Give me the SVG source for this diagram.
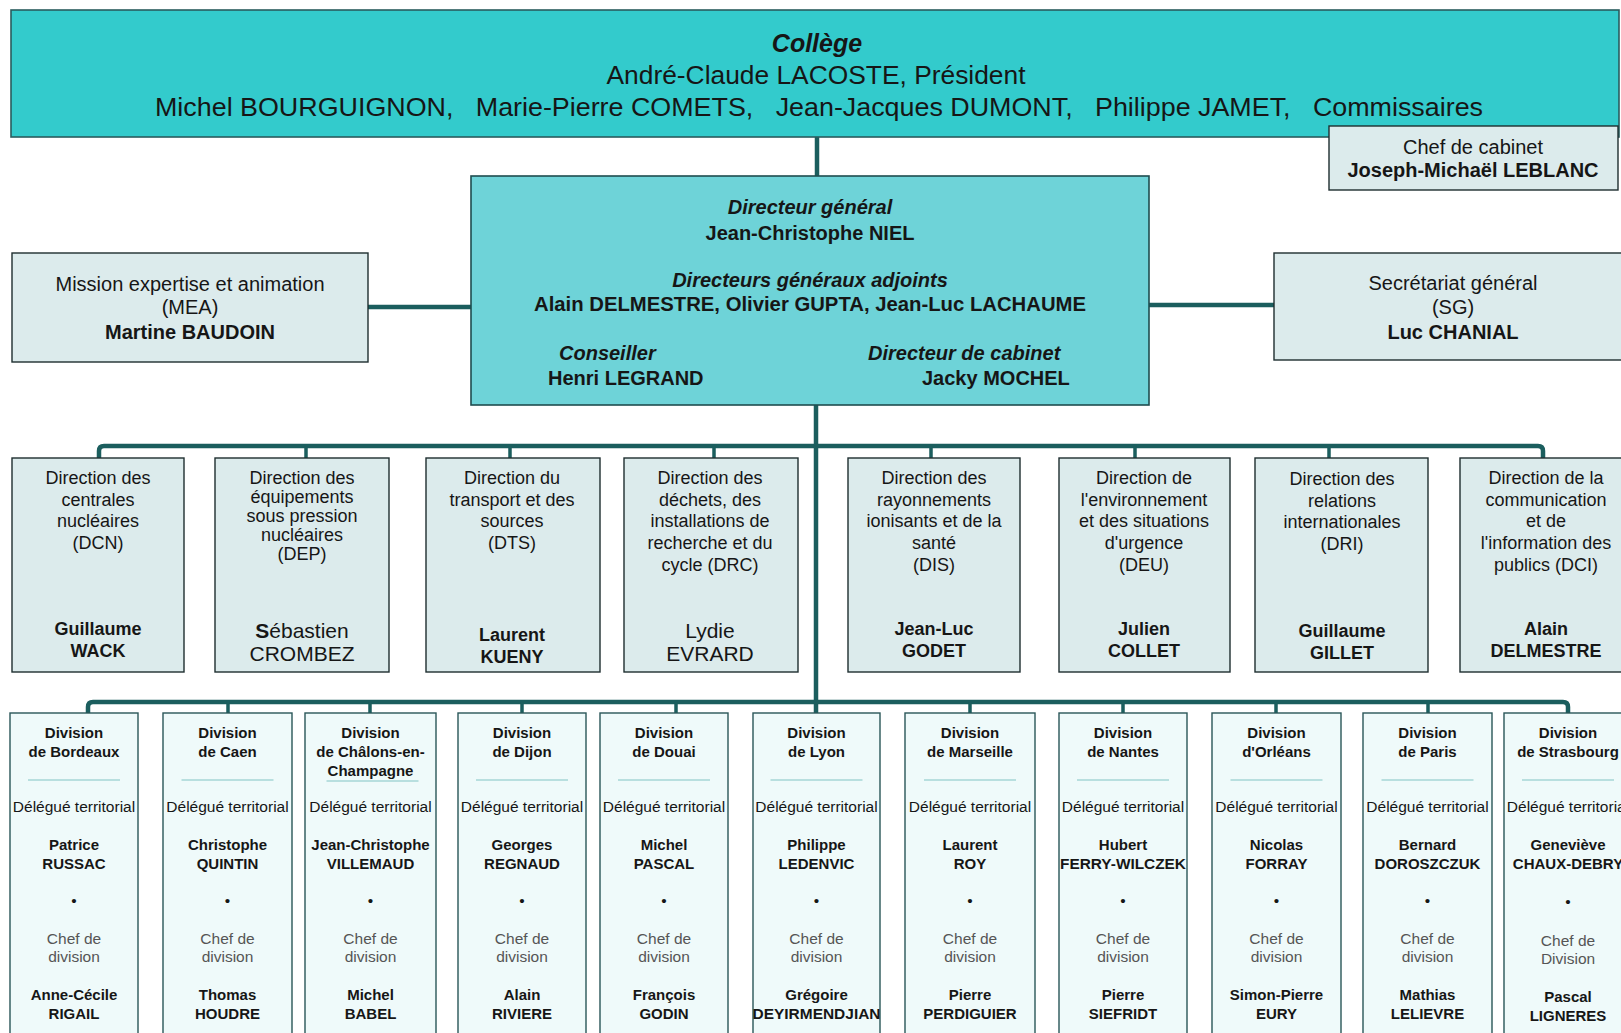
<svg xmlns="http://www.w3.org/2000/svg" width="1621" height="1033" viewBox="0 0 1621 1033">
<style>
text{font-family:"Liberation Sans",Arial,sans-serif;text-anchor:middle;fill:#161616}
.col{fill:#33CBCC;stroke:#2A5C5E;stroke-width:1.6}
.dg{fill:#6ED3D8;stroke:#1F4D4F;stroke-width:1.6}
.lt{fill:#DCEBEC;stroke:#1E2E30;stroke-width:1.4}
.dv{fill:#EFFAFA;stroke:#2A5658;stroke-width:1.4}
.sep{stroke:#A6D6D6;stroke-width:1.6}
.cn{stroke:#1B5E5E;stroke-width:4.5;fill:none}
.st{stroke:#1B5E5E;stroke-width:3.5;fill:none}
.t25{font-size:25px}
.t20{font-size:20px}
.t18{font-size:18px}
.t21{font-size:21px}
.d{font-size:15.5px}
.dn{font-size:15px;font-weight:bold}
.g{fill:#555}
.b{font-weight:bold}
.bi{font-weight:bold;font-style:italic}
</style>

<g id="connectors">
<path class="cn" d="M817,137 V176"/>
<path class="cn" d="M368,307 H471"/>
<path class="cn" d="M1149,305 H1274"/>
<path class="cn" d="M816,405 V713"/>
<path class="cn" d="M99,458 V451 Q99,446 104,446 H1538 Q1543,446 1543,451 V458"/>
<path class="st" d="M306,446 V458 M510,446 V458 M714,446 V458 M931,446 V458 M1135,446 V458 M1329,446 V458"/>
<path class="cn" d="M88,713 V707 Q88,702 93,702 H1563 Q1568,702 1568,707 V713"/>
<path class="st" d="M228,702 V713 M370,702 V713 M522,702 V713 M676,702 V713 M970,702 V713 M1123,702 V713 M1276,702 V713 M1428,702 V713"/>
</g>

<g id="college">
<rect class="col" x="11" y="10" width="1608" height="127"/>
<text class="t25 bi" x="817" y="52">Collège</text>
<text class="t25" x="816" y="84" textLength="419" lengthAdjust="spacingAndGlyphs">André-Claude LACOSTE, Président</text>
<text class="t25" x="819" y="116" textLength="1328" lengthAdjust="spacingAndGlyphs" xml:space="preserve">Michel BOURGUIGNON,   Marie-Pierre COMETS,   Jean-Jacques DUMONT,   Philippe JAMET,   Commissaires</text>
</g>

<g id="chef-cabinet">
<rect class="lt" x="1329" y="126" width="289" height="64"/>
<text class="t20" x="1473" y="154">Chef de cabinet</text>
<text class="t20 b" x="1473" y="177">Joseph-Michaël LEBLANC</text>
</g>

<g id="directeur-general">
<rect class="dg" x="471" y="176" width="678" height="229"/>
<text class="t20 bi" x="810" y="214">Directeur général</text>
<text class="t20 b" x="810" y="240">Jean-Christophe NIEL</text>
<text class="t20 bi" x="810" y="287">Directeurs généraux adjoints</text>
<text class="t20 b" x="810" y="311" textLength="552" lengthAdjust="spacingAndGlyphs">Alain DELMESTRE, Olivier GUPTA, Jean-Luc LACHAUME</text>
<text class="t20 bi" x="559" y="360" style="text-anchor:start">Conseiller</text>
<text class="t20 b" x="548" y="384.5" style="text-anchor:start">Henri LEGRAND</text>
<text class="t20 bi" x="868" y="360" style="text-anchor:start">Directeur de cabinet</text>
<text class="t20 b" x="922" y="384.5" style="text-anchor:start">Jacky MOCHEL</text>
</g>

<g id="mea">
<rect class="lt" x="12" y="253" width="356" height="109"/>
<text class="t20" x="190" y="290.5">Mission expertise et animation</text>
<text class="t20" x="190" y="314">(MEA)</text>
<text class="t20 b" x="190" y="339">Martine BAUDOIN</text>
</g>

<g id="sg">
<rect class="lt" x="1274" y="253" width="350" height="107"/>
<text class="t20" x="1453" y="289.5">Secrétariat général</text>
<text class="t20" x="1453" y="314">(SG)</text>
<text class="t20 b" x="1453" y="338.5">Luc CHANIAL</text>
</g>

<g id="dcn">
<rect class="lt" x="12" y="458" width="172" height="214"/>
<text class="t18" x="98" y="484">Direction des</text>
<text class="t18" x="98" y="505.5">centrales</text>
<text class="t18" x="98" y="527">nucléaires</text>
<text class="t18" x="98" y="549">(DCN)</text>
<text class="t18 b" x="98" y="635">Guillaume</text>
<text class="t18 b" x="98" y="656.5">WACK</text>
</g>

<g id="dep">
<rect class="lt" x="215" y="458" width="174" height="214"/>
<text class="t18" x="302" y="484">Direction des</text>
<text class="t18" x="302" y="502.5">équipements</text>
<text class="t18" x="302" y="522">sous pression</text>
<text class="t18" x="302" y="541">nucléaires</text>
<text class="t18" x="302" y="560">(DEP)</text>
<text class="t21" x="302" y="638"><tspan class="b">S</tspan>ébastien</text>
<text class="t21" x="302" y="660.5">CROMBEZ</text>
</g>

<g id="dts">
<rect class="lt" x="426" y="458" width="174" height="214"/>
<text class="t18" x="512" y="484">Direction du</text>
<text class="t18" x="512" y="505.5">transport et des</text>
<text class="t18" x="512" y="527">sources</text>
<text class="t18" x="512" y="549">(DTS)</text>
<text class="t18 b" x="512" y="641">Laurent</text>
<text class="t18 b" x="512" y="663">KUENY</text>
</g>

<g id="drc">
<rect class="lt" x="624" y="458" width="174" height="214"/>
<text class="t18" x="710" y="484">Direction des</text>
<text class="t18" x="710" y="505.5">déchets, des</text>
<text class="t18" x="710" y="527">installations de</text>
<text class="t18" x="710" y="549">recherche et du</text>
<text class="t18" x="710" y="570.5">cycle (DRC)</text>
<text class="t21" x="710" y="638">Lydie</text>
<text class="t21" x="710" y="660.5">EVRARD</text>
</g>

<g id="dis">
<rect class="lt" x="848" y="458" width="172" height="214"/>
<text class="t18" x="934" y="484">Direction des</text>
<text class="t18" x="934" y="505.5">rayonnements</text>
<text class="t18" x="934" y="527">ionisants et de la</text>
<text class="t18" x="934" y="549">santé</text>
<text class="t18" x="934" y="570.5">(DIS)</text>
<text class="t18 b" x="934" y="635">Jean-Luc</text>
<text class="t18 b" x="934" y="656.5">GODET</text>
</g>

<g id="deu">
<rect class="lt" x="1059" y="458" width="171" height="214"/>
<text class="t18" x="1144" y="484">Direction de</text>
<text class="t18" x="1144" y="505.5">l'environnement</text>
<text class="t18" x="1144" y="527">et des situations</text>
<text class="t18" x="1144" y="549">d'urgence</text>
<text class="t18" x="1144" y="570.5">(DEU)</text>
<text class="t18 b" x="1144" y="635">Julien</text>
<text class="t18 b" x="1144" y="656.5">COLLET</text>
</g>

<g id="dri">
<rect class="lt" x="1255" y="458" width="173" height="214"/>
<text class="t18" x="1342" y="485">Direction des</text>
<text class="t18" x="1342" y="506.5">relations</text>
<text class="t18" x="1342" y="528">internationales</text>
<text class="t18" x="1342" y="550">(DRI)</text>
<text class="t18 b" x="1342" y="637">Guillaume</text>
<text class="t18 b" x="1342" y="658.5">GILLET</text>
</g>

<g id="dci">
<rect class="lt" x="1460" y="458" width="170" height="214"/>
<text class="t18" x="1546" y="484">Direction de la</text>
<text class="t18" x="1546" y="505.5">communication</text>
<text class="t18" x="1546" y="527">et de</text>
<text class="t18" x="1546" y="549">l'information des</text>
<text class="t18" x="1546" y="570.5">publics (DCI)</text>
<text class="t18 b" x="1546" y="635">Alain</text>
<text class="t18 b" x="1546" y="656.5">DELMESTRE</text>
</g>

<g id="div-bordeaux" transform="translate(74,0)">
<rect class="dv" x="-64" y="713" width="128" height="330"/>
<text class="dn" x="0" y="738">Division</text>
<text class="dn" x="0" y="757">de Bordeaux</text>
<line class="sep" x1="-46" y1="780" x2="46" y2="780"/>
<text class="d" x="0" y="812">Délégué territorial</text>
<text class="dn" x="0" y="850">Patrice</text>
<text class="dn" x="0" y="868.5">RUSSAC</text>
<text class="d" x="0" y="906">•</text>
<text class="d g" x="0" y="944">Chef de</text>
<text class="d g" x="0" y="962">division</text>
<text class="dn" x="0" y="1000">Anne-Cécile</text>
<text class="dn" x="0" y="1018.5">RIGAIL</text>
</g>

<g id="div-caen" transform="translate(227.5,0)">
<rect class="dv" x="-64.5" y="713" width="129" height="330"/>
<text class="dn" x="0" y="738">Division</text>
<text class="dn" x="0" y="757">de Caen</text>
<line class="sep" x1="-46" y1="780" x2="46" y2="780"/>
<text class="d" x="0" y="812">Délégué territorial</text>
<text class="dn" x="0" y="850">Christophe</text>
<text class="dn" x="0" y="868.5">QUINTIN</text>
<text class="d" x="0" y="906">•</text>
<text class="d g" x="0" y="944">Chef de</text>
<text class="d g" x="0" y="962">division</text>
<text class="dn" x="0" y="1000">Thomas</text>
<text class="dn" x="0" y="1018.5">HOUDRE</text>
</g>

<g id="div-chalons" transform="translate(370.5,0)">
<rect class="dv" x="-65.5" y="713" width="131" height="330"/>
<text class="dn" x="0" y="738">Division</text>
<text class="dn" x="0" y="757">de Châlons-en-</text>
<text class="dn" x="0" y="775.5">Champagne</text>
<line class="sep" x1="-44" y1="781" x2="48" y2="781"/>
<text class="d" x="0" y="812">Délégué territorial</text>
<text class="dn" x="0" y="850">Jean-Christophe</text>
<text class="dn" x="0" y="868.5">VILLEMAUD</text>
<text class="d" x="0" y="906">•</text>
<text class="d g" x="0" y="944">Chef de</text>
<text class="d g" x="0" y="962">division</text>
<text class="dn" x="0" y="1000">Michel</text>
<text class="dn" x="0" y="1018.5">BABEL</text>
</g>

<g id="div-dijon" transform="translate(522,0)">
<rect class="dv" x="-64" y="713" width="128" height="330"/>
<text class="dn" x="0" y="738">Division</text>
<text class="dn" x="0" y="757">de Dijon</text>
<line class="sep" x1="-46" y1="780" x2="46" y2="780"/>
<text class="d" x="0" y="812">Délégué territorial</text>
<text class="dn" x="0" y="850">Georges</text>
<text class="dn" x="0" y="868.5">REGNAUD</text>
<text class="d" x="0" y="906">•</text>
<text class="d g" x="0" y="944">Chef de</text>
<text class="d g" x="0" y="962">division</text>
<text class="dn" x="0" y="1000">Alain</text>
<text class="dn" x="0" y="1018.5">RIVIERE</text>
</g>

<g id="div-douai" transform="translate(664,0)">
<rect class="dv" x="-64" y="713" width="128" height="330"/>
<text class="dn" x="0" y="738">Division</text>
<text class="dn" x="0" y="757">de Douai</text>
<line class="sep" x1="-46" y1="780" x2="46" y2="780"/>
<text class="d" x="0" y="812">Délégué territorial</text>
<text class="dn" x="0" y="850">Michel</text>
<text class="dn" x="0" y="868.5">PASCAL</text>
<text class="d" x="0" y="906">•</text>
<text class="d g" x="0" y="944">Chef de</text>
<text class="d g" x="0" y="962">division</text>
<text class="dn" x="0" y="1000">François</text>
<text class="dn" x="0" y="1018.5">GODIN</text>
</g>

<g id="div-lyon" transform="translate(816.5,0)">
<rect class="dv" x="-63.5" y="713" width="127" height="330"/>
<text class="dn" x="0" y="738">Division</text>
<text class="dn" x="0" y="757">de Lyon</text>
<line class="sep" x1="-46" y1="780" x2="46" y2="780"/>
<text class="d" x="0" y="812">Délégué territorial</text>
<text class="dn" x="0" y="850">Philippe</text>
<text class="dn" x="0" y="868.5">LEDENVIC</text>
<text class="d" x="0" y="906">•</text>
<text class="d g" x="0" y="944">Chef de</text>
<text class="d g" x="0" y="962">division</text>
<text class="dn" x="0" y="1000">Grégoire</text>
<text class="dn" x="0" y="1018.5" textLength="128" lengthAdjust="spacingAndGlyphs">DEYIRMENDJIAN</text>
</g>

<g id="div-marseille" transform="translate(970,0)">
<rect class="dv" x="-65" y="713" width="130" height="330"/>
<text class="dn" x="0" y="738">Division</text>
<text class="dn" x="0" y="757">de Marseille</text>
<line class="sep" x1="-46" y1="780" x2="46" y2="780"/>
<text class="d" x="0" y="812">Délégué territorial</text>
<text class="dn" x="0" y="850">Laurent</text>
<text class="dn" x="0" y="868.5">ROY</text>
<text class="d" x="0" y="906">•</text>
<text class="d g" x="0" y="944">Chef de</text>
<text class="d g" x="0" y="962">division</text>
<text class="dn" x="0" y="1000">Pierre</text>
<text class="dn" x="0" y="1018.5">PERDIGUIER</text>
</g>

<g id="div-nantes" transform="translate(1123,0)">
<rect class="dv" x="-64" y="713" width="128" height="330"/>
<text class="dn" x="0" y="738">Division</text>
<text class="dn" x="0" y="757">de Nantes</text>
<line class="sep" x1="-46" y1="780" x2="46" y2="780"/>
<text class="d" x="0" y="812">Délégué territorial</text>
<text class="dn" x="0" y="850">Hubert</text>
<text class="dn" x="0" y="868.5" textLength="126" lengthAdjust="spacingAndGlyphs">FERRY-WILCZEK</text>
<text class="d" x="0" y="906">•</text>
<text class="d g" x="0" y="944">Chef de</text>
<text class="d g" x="0" y="962">division</text>
<text class="dn" x="0" y="1000">Pierre</text>
<text class="dn" x="0" y="1018.5">SIEFRIDT</text>
</g>

<g id="div-orleans" transform="translate(1276.5,0)">
<rect class="dv" x="-64.5" y="713" width="129" height="330"/>
<text class="dn" x="0" y="738">Division</text>
<text class="dn" x="0" y="757">d'Orléans</text>
<line class="sep" x1="-46" y1="780" x2="46" y2="780"/>
<text class="d" x="0" y="812">Délégué territorial</text>
<text class="dn" x="0" y="850">Nicolas</text>
<text class="dn" x="0" y="868.5">FORRAY</text>
<text class="d" x="0" y="906">•</text>
<text class="d g" x="0" y="944">Chef de</text>
<text class="d g" x="0" y="962">division</text>
<text class="dn" x="0" y="1000">Simon-Pierre</text>
<text class="dn" x="0" y="1018.5">EURY</text>
</g>

<g id="div-paris" transform="translate(1427.5,0)">
<rect class="dv" x="-64.5" y="713" width="129" height="330"/>
<text class="dn" x="0" y="738">Division</text>
<text class="dn" x="0" y="757">de Paris</text>
<line class="sep" x1="-46" y1="780" x2="46" y2="780"/>
<text class="d" x="0" y="812">Délégué territorial</text>
<text class="dn" x="0" y="850">Bernard</text>
<text class="dn" x="0" y="868.5">DOROSZCZUK</text>
<text class="d" x="0" y="906">•</text>
<text class="d g" x="0" y="944">Chef de</text>
<text class="d g" x="0" y="962">division</text>
<text class="dn" x="0" y="1000">Mathias</text>
<text class="dn" x="0" y="1018.5">LELIEVRE</text>
</g>

<g id="div-strasbourg" transform="translate(1568,0)">
<rect class="dv" x="-64" y="713" width="128" height="330"/>
<text class="dn" x="0" y="738">Division</text>
<text class="dn" x="0" y="757">de Strasbourg</text>
<line class="sep" x1="-46" y1="780" x2="46" y2="780"/>
<text class="d" x="0" y="812">Délégué territorial</text>
<text class="dn" x="0" y="850">Geneviève</text>
<text class="dn" x="0" y="868.5">CHAUX-DEBRY</text>
<text class="d" x="0" y="907">•</text>
<text class="d g" x="0" y="946">Chef de</text>
<text class="d g" x="0" y="964">Division</text>
<text class="dn" x="0" y="1002">Pascal</text>
<text class="dn" x="0" y="1020.5">LIGNERES</text>
</g>
</svg>
